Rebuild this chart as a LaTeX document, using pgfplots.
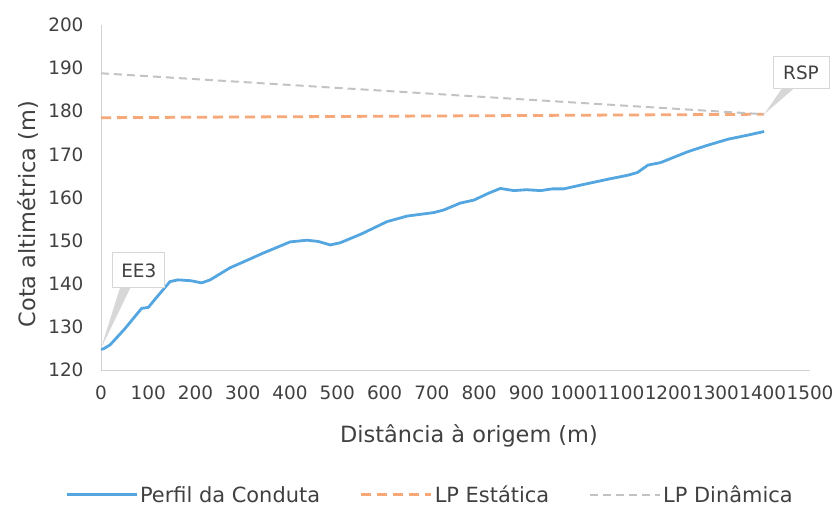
\documentclass[border=0pt]{standalone}
\usepackage{fontspec}
\setmainfont{DejaVu Sans}
\usepackage{pgfplots}
\pgfplotsset{compat=1.18}
\definecolor{perfil}{RGB}{84,166,224}
\definecolor{estatica}{RGB}{247,168,120}
\definecolor{dinamica}{RGB}{195,195,195}
\definecolor{txt}{RGB}{64,64,64}
\definecolor{axisgray}{RGB}{210,210,210}
\definecolor{boxgray}{RGB}{215,215,215}
\newcommand{\fs}{\fontsize{18.5}{22}\selectfont}
\newcommand{\fl}{\fontsize{22.5}{26}\selectfont}
\newcommand{\fg}{\fontsize{21}{24}\selectfont}

\begin{document}
\begin{tikzpicture}[x=1bp,y=1bp]
\path[use as bounding box] (0,0) rectangle (838,508);
\begin{axis}[
  at={(101bp,138bp)}, anchor=south west,
  scale only axis, width=709bp, height=345bp,
  xmin=0, xmax=1500, ymin=120, ymax=200,
  xtick distance=100, ytick distance=10,
  axis x line*=bottom, axis y line*=left,
  axis line style={draw=axisgray, line width=0.8bp, -},
  tick style={draw=none},
  ticklabel style={font=\fs, text=txt},
  /pgf/number format/assume math mode=true,
  /pgf/number format/1000 sep={},
  xticklabel style={yshift=-12bp},
  yticklabel style={xshift=-14bp},
  xlabel={Distância à origem (m)},
  ylabel={Cota altimétrica (m)},
  label style={font=\fl, text=txt},
  xlabel style={at={(axis description cs:0.519,-0.19)}, anchor=center},
  ylabel style={at={(axis description cs:-0.103,0.452)}, anchor=center},
  clip=false,
  legend columns=3,
  legend cell align=left,
  legend style={at={(0.464,-0.362)}, anchor=center, draw=none, fill=none, font=\fg, text=txt,
    /tikz/every even column/.append style={column sep=38bp}},
  legend image code/.code={\draw[#1] (0bp,0bp) -- (70bp,0bp);},
]
\addplot[color=perfil, line width=2.8bp, line join=round] coordinates {
(0,124.8) (5,124.9) (19,125.8) (50,129.5) (86,134.3) (100,134.5) (115,136.5)
(146,140.5) (163,140.9) (190,140.7) (213,140.2) (231,140.9) (273,143.7)
(300,145.0) (343,147.1) (400,149.7) (436,150.1) (460,149.8) (485,149.0)
(506,149.5) (550,151.5) (605,154.4) (648,155.7) (704,156.5) (725,157.1)
(760,158.7) (789,159.4) (820,161.0) (845,162.1) (873,161.6) (900,161.8)
(930,161.6) (955,162.0) (979,162.0) (1020,163.0) (1071,164.2) (1116,165.2)
(1135,165.8) (1157,167.5) (1184,168.1) (1241,170.6) (1280,172.0)
(1326,173.5) (1370,174.5) (1403,175.3)
};
\addlegendentry{Perfil da Conduta}
\addplot[color=estatica, line width=2.8bp, dash pattern=on 10bp off 6bp] coordinates {
(0,178.5) (1403,179.3)
};
\addlegendentry{LP Estática}
\addplot[color=dinamica, line width=2bp, dash pattern=on 8bp off 5bp] coordinates {
(0,188.8) (1403,179.3)
};
\addlegendentry{LP Dinâmica}
% callouts
\fill[boxgray] (axis cs:0,125) -- (axis cs:40,139) -- (axis cs:62,139) -- cycle;
\node[draw=boxgray, fill=white, line width=0.8bp, minimum width=52bp, minimum height=35bp,
  inner sep=2bp, font=\fs, text=txt] at (axis cs:80,143.1) {EE3};
\fill[boxgray] (axis cs:1403,179.3) -- (axis cs:1440,185.2) -- (axis cs:1465,185.2) -- cycle;
\node[draw=boxgray, fill=white, line width=0.8bp, minimum width=56bp, minimum height=32bp,
  inner sep=2bp, font=\fs, text=txt] at (axis cs:1481,188.9) {RSP};
\end{axis}
\end{tikzpicture}
\end{document}
